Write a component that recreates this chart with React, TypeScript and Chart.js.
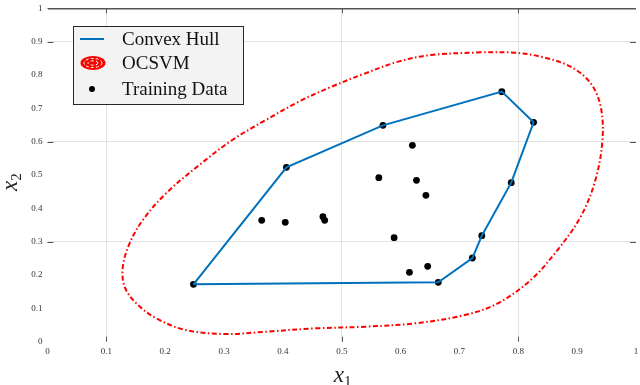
import React, { useEffect, useRef } from "react";
import { Chart, registerables } from "chart.js";

Chart.register(...registerables);

// Convex hull vertices (in drawing order)
const hullX = [0.248, 0.406, 0.570, 0.772, 0.826, 0.788, 0.738, 0.722, 0.664];
const hullY = [0.172, 0.523, 0.649, 0.750, 0.658, 0.477, 0.318, 0.251, 0.178];

// Interior training points (hull vertices are training points too)
const innerX = [0.620, 0.563, 0.627, 0.643, 0.364, 0.404, 0.468, 0.471, 0.589, 0.646, 0.615];
const innerY = [0.589, 0.492, 0.484, 0.439, 0.364, 0.358, 0.375, 0.364, 0.312, 0.226, 0.208];

// OCSVM decision boundary contour
const svmX = [0.737, 0.652, 0.596, 0.540, 0.483, 0.427, 0.371, 0.314, 0.258, 0.2015, 0.162, 0.1395, 0.128, 0.131, 0.151, 0.185, 0.235, 0.303, 0.371, 0.455, 0.540, 0.624, 0.709, 0.765, 0.821, 0.8666, 0.906, 0.931, 0.943, 0.940, 0.923, 0.889, 0.838, 0.793];
const svmY = [0.868, 0.860, 0.840, 0.805, 0.765, 0.720, 0.665, 0.605, 0.530, 0.445, 0.365, 0.295, 0.225, 0.165, 0.115, 0.070, 0.035, 0.023, 0.030, 0.040, 0.045, 0.055, 0.080, 0.115, 0.185, 0.275, 0.375, 0.485, 0.605, 0.705, 0.775, 0.825, 0.855, 0.867];

const xGrid = [1, 5, 8];
const yGrid = [3, 6, 9];
const legendLabels = ["Convex Hull", "OCSVM", "Training Data"];
const xTitle = ["x", "1"];
const yTitle = ["x", "2"];

const SERIF = "'Liberation Serif', 'Times New Roman', serif";

const framePlugin = {
  id: "frameDecor",
  beforeDatasetsDraw(chart: any) {
    const { ctx, chartArea, scales } = chart;
    const xs = scales.x;
    const ys = scales.y;
    ctx.save();
    ctx.strokeStyle = "#555";
    ctx.lineWidth = 1;
    for (const g of xGrid) {
      const px = Math.round(xs.getPixelForValue(g / 10)) + 0.5;
      ctx.beginPath();
      ctx.moveTo(px, chartArea.bottom);
      ctx.lineTo(px, chartArea.bottom - 5);
      ctx.moveTo(px, chartArea.top);
      ctx.lineTo(px, chartArea.top + 5);
      ctx.stroke();
    }
    for (const g of [...yGrid, 10]) {
      const py = Math.round(ys.getPixelForValue(g / 10)) + 0.5;
      ctx.beginPath();
      ctx.moveTo(chartArea.left, py);
      ctx.lineTo(chartArea.left + 6, py);
      ctx.moveTo(chartArea.right, py);
      ctx.lineTo(chartArea.right - 6, py);
      ctx.stroke();
    }
    ctx.restore();
  },
  afterDraw(chart: any) {
    const { ctx, chartArea } = chart;
    ctx.save();
    const bx = 73.5, by = 26.5, bw = 170, bh = 78;
    ctx.fillStyle = "#f3f3f3";
    ctx.fillRect(bx, by, bw, bh);
    ctx.strokeStyle = "#262626";
    ctx.lineWidth = 1;
    ctx.strokeRect(bx, by, bw, bh);

    ctx.font = `19px ${SERIF}`;
    ctx.fillStyle = "#111";
    ctx.textBaseline = "middle";
    ctx.textAlign = "left";
    const rows = [39, 63, 89];
    legendLabels.forEach((t, i) => ctx.fillText(t, 122, rows[i] + 1));

    ctx.strokeStyle = "#0072BD";
    ctx.lineWidth = 2;
    ctx.beginPath();
    ctx.moveTo(80, rows[0]);
    ctx.lineTo(104, rows[0]);
    ctx.stroke();

    ctx.fillStyle = "#ff0000";
    ctx.beginPath();
    ctx.ellipse(93, rows[1], 12.5, 7, 0, 0, Math.PI * 2);
    ctx.fill();
    ctx.strokeStyle = "#ffffff";
    ctx.lineWidth = 1;
    ctx.setLineDash([3, 2]);
    ctx.beginPath();
    ctx.ellipse(93, rows[1], 9, 4.5, 0, 0, Math.PI * 2);
    ctx.stroke();
    ctx.beginPath();
    ctx.ellipse(93, rows[1], 5, 2.2, 0, 0, Math.PI * 2);
    ctx.stroke();
    ctx.setLineDash([]);

    ctx.fillStyle = "#000";
    ctx.beginPath();
    ctx.arc(92, rows[2], 3, 0, Math.PI * 2);
    ctx.fill();

    const cx = (chartArea.left + chartArea.right) / 2;
    ctx.fillStyle = "#222";
    ctx.textBaseline = "alphabetic";
    ctx.font = `italic 23px ${SERIF}`;
    const wx = ctx.measureText(xTitle[0]).width;
    ctx.fillText(xTitle[0], cx - 8, 382);
    ctx.font = `15px ${SERIF}`;
    ctx.fillText(xTitle[1], cx - 8 + wx, 386);

    ctx.translate(17, (chartArea.top + chartArea.bottom) / 2 + 8);
    ctx.rotate(-Math.PI / 2);
    ctx.font = `italic 23px ${SERIF}`;
    const wy = ctx.measureText(yTitle[0]).width;
    ctx.fillText(yTitle[0], -8, 0);
    ctx.font = `15px ${SERIF}`;
    ctx.fillText(yTitle[1], -8 + wy, 4);
    ctx.restore();
  },
};

export default function App() {
  const ref = useRef<HTMLCanvasElement>(null);

  useEffect(() => {
    if (!ref.current) return;
    const hull = hullX.map((x, i) => ({ x, y: hullY[i] }));
    hull.push({ ...hull[0] });
    const svm = svmX.map((x, i) => ({ x, y: svmY[i] }));
    svm.push({ ...svm[0] });
    const train = [
      ...hullX.map((x, i) => ({ x, y: hullY[i] })),
      ...innerX.map((x, i) => ({ x, y: innerY[i] })),
    ];
    const tickFmt = (v: any) => String(Math.round(Number(v) * 10) / 10);
    const chart = new Chart(ref.current, {
      type: "scatter",
      data: {
        datasets: [
          {
            label: legendLabels[1],
            data: svm,
            showLine: true,
            borderColor: "#ff0000",
            borderWidth: 2,
            borderDash: [5, 2.5, 1.5, 2.5],
            pointRadius: 0,
            tension: 0.35,
            fill: false,
          } as any,
          {
            label: legendLabels[0],
            data: hull,
            showLine: true,
            borderColor: "#0072BD",
            borderWidth: 2,
            pointRadius: 0,
            tension: 0,
            fill: false,
          },
          {
            label: legendLabels[2],
            data: train,
            showLine: false,
            pointRadius: 3.4,
            pointBackgroundColor: "#000",
            pointBorderWidth: 0,
            pointBorderColor: "#000",
          },
        ],
      },
      options: {
        animation: false,
        responsive: false,
        maintainAspectRatio: false,
        layout: { padding: { top: 8.3, right: 0, left: 0, bottom: 0 } },
        plugins: { legend: { display: false }, tooltip: { enabled: false } },
        scales: {
          x: {
            type: "linear",
            min: 0,
            max: 1,
            border: { display: false },
            afterFit: (s: any) => {
              s.height = 43.3;
              s.paddingLeft = 0;
              s.paddingRight = 0;
            },
            grid: {
              drawTicks: false,
              lineWidth: 1,
              color: (c: any) =>
                c.tick && xGrid.includes(Math.round(c.tick.value * 10)) ? "#e3e3e3" : "rgba(0,0,0,0)",
            },
            ticks: {
              stepSize: 0.1,
              padding: 5,
              maxRotation: 0,
              autoSkip: false,
              color: "#333",
              font: { family: SERIF, size: 9 },
              callback: tickFmt,
            },
          },
          y: {
            type: "linear",
            min: 0,
            max: 1,
            border: { display: false },
            afterFit: (s: any) => {
              s.width = 47.5;
              s.paddingTop = 0;
              s.paddingBottom = 0;
            },
            grid: {
              drawTicks: false,
              lineWidth: (c: any) => (c.tick && Math.round(c.tick.value * 10) === 10 ? 1.5 : 1),
              color: (c: any) => {
                if (!c.tick) return "rgba(0,0,0,0)";
                const k = Math.round(c.tick.value * 10);
                if (k === 10) return "#555";
                return yGrid.includes(k) ? "#e3e3e3" : "rgba(0,0,0,0)";
              },
            },
            ticks: {
              stepSize: 0.1,
              padding: 5,
              autoSkip: false,
              color: "#333",
              font: { family: SERIF, size: 9 },
              callback: tickFmt,
            },
          },
        },
      },
      plugins: [framePlugin],
    });
    return () => chart.destroy();
  }, []);

  return (
    <div style={{ position: "absolute", left: 0, top: 0, width: 640, height: 385, background: "#fff" }}>
      <canvas ref={ref} width={640} height={385} />
    </div>
  );
}
